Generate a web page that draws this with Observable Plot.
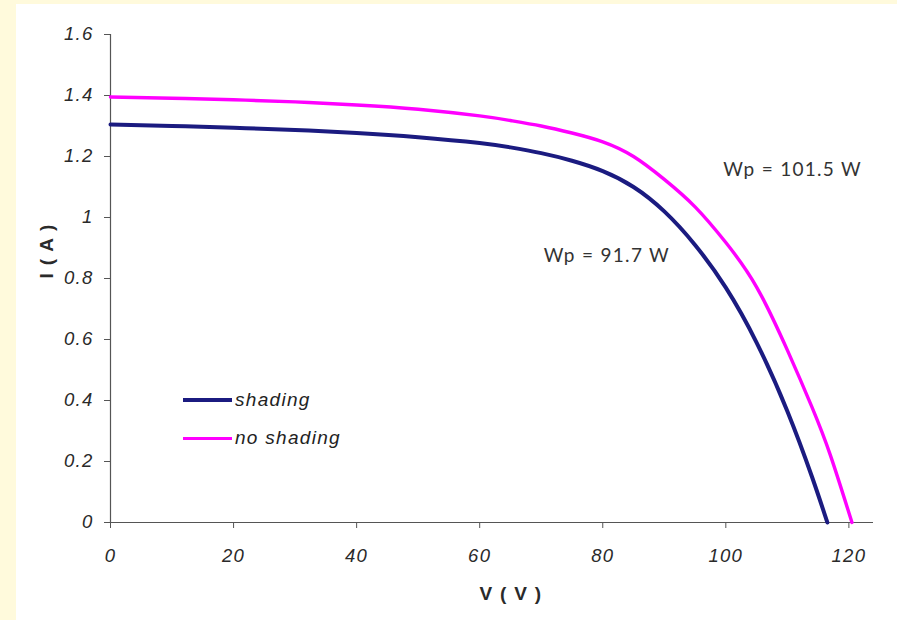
<!DOCTYPE html>
<html>
<head>
<meta charset="utf-8">
<script src="https://cdn.jsdelivr.net/npm/d3@7"></script>
<script src="https://cdn.jsdelivr.net/npm/@observablehq/plot@0.6"></script>
<style>
  html, body { margin: 0; padding: 0; background: #fffadc; }
  #wrap { position: absolute; left: 16px; top: 4px; width: 881px; height: 616px; background: #ffffff; }
  #wrap svg text { letter-spacing: 1.3px; }
  #legend { position: absolute; left: 167px; top: 377px; font-family: "Liberation Sans", Arial, sans-serif; font-style: italic; font-size: 19px; letter-spacing: 1.3px; color: #222; }
  .row { display: flex; align-items: center; height: 38px; }
  .sw { display: inline-block; width: 49px; height: 4px; margin-right: 3px; }
</style>
</head>
<body>
<div id="wrap"></div>
<script>
// ---- data ----
const seriesNames = ["shading", "no shading"];
const seriesColors = ["#1b1b80", "#ff00ff"];

const vShading = [0, 10, 20, 30, 40, 50, 60, 65, 70, 75, 80, 85, 90, 95, 100, 105, 110, 114, 116.5];
const iShading = [1.305, 1.300, 1.294, 1.287, 1.277, 1.263, 1.244, 1.230, 1.211, 1.186, 1.152, 1.100, 1.020, 0.910, 0.770, 0.590, 0.365, 0.150, 0];

const vNoShading = [0, 10, 20, 30, 40, 50, 60, 65, 70, 75, 80, 85, 90, 95, 100, 105, 110, 114, 117, 120.5];
const iNoShading = [1.395, 1.391, 1.386, 1.379, 1.369, 1.355, 1.333, 1.318, 1.300, 1.277, 1.248, 1.200, 1.125, 1.035, 0.918, 0.772, 0.565, 0.378, 0.220, 0];

const xTicks = [0, 20, 40, 60, 80, 100, 120];
const yTicks = [0, 0.2, 0.4, 0.6, 0.8, 1, 1.2, 1.4, 1.6];

const annLabels = ["Wp = 91.7 W", "Wp = 101.5 W"];
const annV = [70.4, 99.6];
const annI = [0.875, 1.157];

const xTitle = "V ( V )";
const yTitle = "I ( A )";

// ---- build tables ----
const rows = [];
vShading.forEach((v, k) => rows.push({series: seriesNames[0], V: v, I: iShading[k]}));
vNoShading.forEach((v, k) => rows.push({series: seriesNames[1], V: v, I: iNoShading[k]}));
const ann = annLabels.map((t, k) => ({text: t, V: annV[k], I: annI[k]}));

const tickFont = {fontSize: 18.5, fontStyle: "italic", fill: "#2a2a2a"};

const chart = Plot.plot({
  width: 881,
  height: 616,
  marginLeft: 94,
  marginRight: 24,
  marginTop: 30,
  marginBottom: 98,
  style: {fontFamily: "'Liberation Sans', Arial, sans-serif", background: "transparent", overflow: "visible"},
  x: {domain: [0, 124]},
  y: {domain: [0, 1.6]},
  color: {domain: seriesNames, range: seriesColors},
  marks: [
    Plot.axisX({ticks: xTicks, tickSize: 6, tickPadding: 20, tickFormat: d => String(d), label: null, stroke: "#555", ...tickFont}),
    Plot.axisY({ticks: yTicks, tickSize: 6, tickPadding: 11, tickFormat: d => String(d), label: null, stroke: "#555", ...tickFont}),
    Plot.ruleY([0], {stroke: "#555", strokeWidth: 1.2}),
    Plot.ruleX([0], {stroke: "#555", strokeWidth: 1.2}),
    Plot.line(rows.filter(d => d.series === seriesNames[0]), {x: "V", y: "I", stroke: seriesColors[0], strokeWidth: 4, curve: "natural"}),
    Plot.line(rows.filter(d => d.series === seriesNames[1]), {x: "V", y: "I", stroke: seriesColors[1], strokeWidth: 3.4, curve: "natural"}),
    Plot.text(ann, {x: "V", y: "I", text: "text", textAnchor: "start", fontSize: 19, fontFamily: "Lato, 'Open Sans', sans-serif", fill: "#333"}),
    Plot.text([xTitle], {frameAnchor: "bottom", dy: 77, dx: 19, fontSize: 19, fontWeight: "bold", fill: "#2a2a2a"}),
    Plot.text([yTitle], {frameAnchor: "left", dx: -64, rotate: -90, fontSize: 19, fontWeight: "bold", fill: "#2a2a2a"})
  ]
});
document.getElementById("wrap").appendChild(chart);

// legend (HTML, real text)
const legend = document.createElement("div");
legend.id = "legend";
seriesNames.forEach((name, k) => {
  const row = document.createElement("div");
  row.className = "row";
  const sw = document.createElement("span");
  sw.className = "sw";
  sw.style.background = seriesColors[k];
  sw.style.height = k === 0 ? "4px" : "3px";
  const lab = document.createElement("span");
  lab.textContent = name;
  row.appendChild(sw);
  row.appendChild(lab);
  legend.appendChild(row);
});
document.getElementById("wrap").appendChild(legend);
</script>
</body>
</html>
